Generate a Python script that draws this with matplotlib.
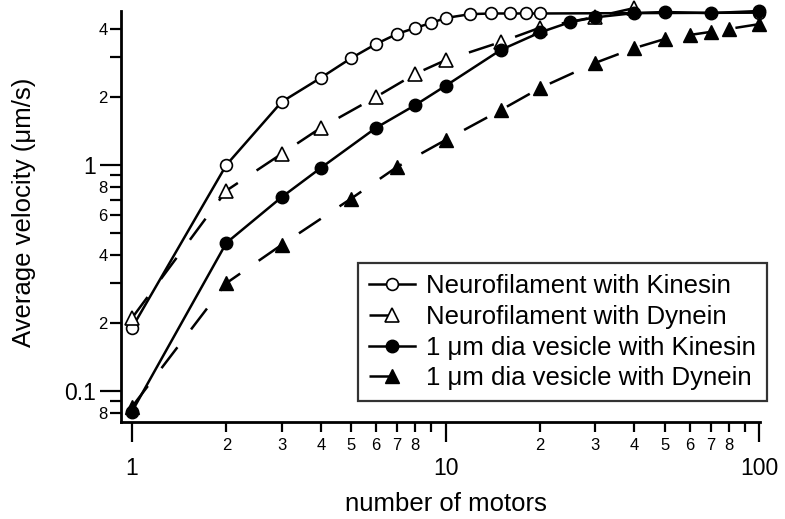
import matplotlib
matplotlib.use("Agg")
import matplotlib.pyplot as plt
from matplotlib.ticker import FixedLocator, FixedFormatter

plt.rcParams['font.family'] = ['Liberation Sans', 'DejaVu Sans']

# Data
nf_kin_x = [1, 2, 3, 4, 5, 6, 7, 8, 9, 10, 12, 14, 16, 18, 20, 100]
nf_kin_y = [0.19, 1.0, 1.90, 2.43, 2.97, 3.43, 3.80, 4.04, 4.25, 4.47, 4.65, 4.68, 4.68, 4.68, 4.68, 4.72]

nf_dyn_x = [1, 2, 3, 4, 6, 8, 10, 15, 20, 30, 40]
nf_dyn_y = [0.21, 0.77, 1.12, 1.46, 2.0, 2.53, 2.91, 3.50, 4.05, 4.52, 4.95]

ves_kin_x = [1, 2, 3, 4, 6, 8, 10, 15, 20, 25, 30, 40, 50, 70, 100]
ves_kin_y = [0.081, 0.452, 0.72, 0.97, 1.46, 1.84, 2.24, 3.23, 3.86, 4.29, 4.5, 4.7, 4.75, 4.7, 4.8]

ves_dyn_x = [1, 2, 3, 5, 7, 10, 15, 20, 30, 40, 50, 60, 70, 80, 100]
ves_dyn_y = [0.085, 0.30, 0.443, 0.71, 0.98, 1.29, 1.75, 2.19, 2.83, 3.29, 3.61, 3.76, 3.88, 4.0, 4.2]

labels = ["Neurofilament with Kinesin", "Neurofilament with Dynein",
          "1 \u03bcm dia vesicle with Kinesin", "1 \u03bcm dia vesicle with Dynein"]

x_major = [1, 10, 100]
x_major_labels = ["1", "10", "100"]
x_minor = [2, 3, 4, 5, 6, 7, 8, 9, 20, 30, 40, 50, 60, 70, 80, 90]
x_minor_labels = ["2", "3", "4", "5", "6", "7", "8", "", "2", "3", "4", "5", "6", "7", "8", ""]

y_major = [0.1, 1]
y_major_labels = ["0.1", "1"]
y_minor = [0.08, 0.09, 0.2, 0.3, 0.4, 0.5, 0.6, 0.7, 0.8, 0.9, 2, 3, 4]
y_minor_labels = ["8", "", "2", "", "4", "", "6", "", "8", "", "2", "", "4"]

fig = plt.figure(figsize=(7.85, 5.19), dpi=100)
ax = fig.add_axes([121/785, 1 - 422/519, 639/785, 411/519])

lw = 1.8
dash = (0, (10.5, 9.0))
ax.plot(nf_kin_x, nf_kin_y, '-', color='black', lw=lw, marker='o', ms=8.5,
        mfc='white', mec='black', mew=1.2, label=labels[0], clip_on=False)
ax.plot(nf_dyn_x, nf_dyn_y, linestyle=dash, color='black', lw=lw, marker='^', ms=9.5,
        mfc='white', mec='black', mew=1.2, label=labels[1], clip_on=False)
ax.plot(ves_kin_x, ves_kin_y, '-', color='black', lw=lw, marker='o', ms=9,
        mfc='black', mec='black', label=labels[2], clip_on=False)
ax.plot(ves_dyn_x, ves_dyn_y, linestyle=dash, color='black', lw=lw, marker='^', ms=9.5,
        mfc='black', mec='black', label=labels[3], clip_on=False)

ax.set_xscale('log')
ax.set_yscale('log')
ax.set_xlim(0.923, 100.5)
ax.set_ylim(0.0729, 4.80)

ax.xaxis.set_major_locator(FixedLocator(x_major))
ax.xaxis.set_major_formatter(FixedFormatter(x_major_labels))
ax.xaxis.set_minor_locator(FixedLocator(x_minor))
ax.xaxis.set_minor_formatter(FixedFormatter(x_minor_labels))
ax.yaxis.set_major_locator(FixedLocator(y_major))
ax.yaxis.set_major_formatter(FixedFormatter(y_major_labels))
ax.yaxis.set_minor_locator(FixedLocator(y_minor))
ax.yaxis.set_minor_formatter(FixedFormatter(y_minor_labels))

ax.tick_params(axis='x', which='major', direction='out', length=14.5, width=1.6,
               labelsize=16.5, pad=11)
ax.tick_params(axis='x', which='minor', direction='out', length=7.2, width=1.6,
               labelsize=12, pad=4)
ax.tick_params(axis='y', which='major', direction='out', length=15, width=1.6,
               labelsize=16.5, pad=3)
ax.tick_params(axis='y', which='minor', direction='out', length=8, width=1.6,
               labelsize=12, pad=1.5)

for s in ['top', 'right']:
    ax.spines[s].set_visible(False)
for s in ['left', 'bottom']:
    ax.spines[s].set_linewidth(2.0)

ax.set_xlabel("number of motors", fontsize=18.5)
ax.set_ylabel("Average velocity (\u03bcm/s)", fontsize=18.5)
ax.xaxis.set_label_coords(0.509, -0.170)
ax.yaxis.set_label_coords(-0.133, 0.51)

leg = ax.legend(loc='lower right', bbox_to_anchor=(767/785, 1 - 401/519),
                bbox_transform=fig.transFigure, borderaxespad=0,
                fontsize=18.5, frameon=True, fancybox=False, edgecolor='black',
                handlelength=1.8, handletextpad=0.45, labelspacing=0.26,
                borderpad=0.42)
leg.get_frame().set_linewidth(1.6)

fig.savefig("out.png", dpi=100)
